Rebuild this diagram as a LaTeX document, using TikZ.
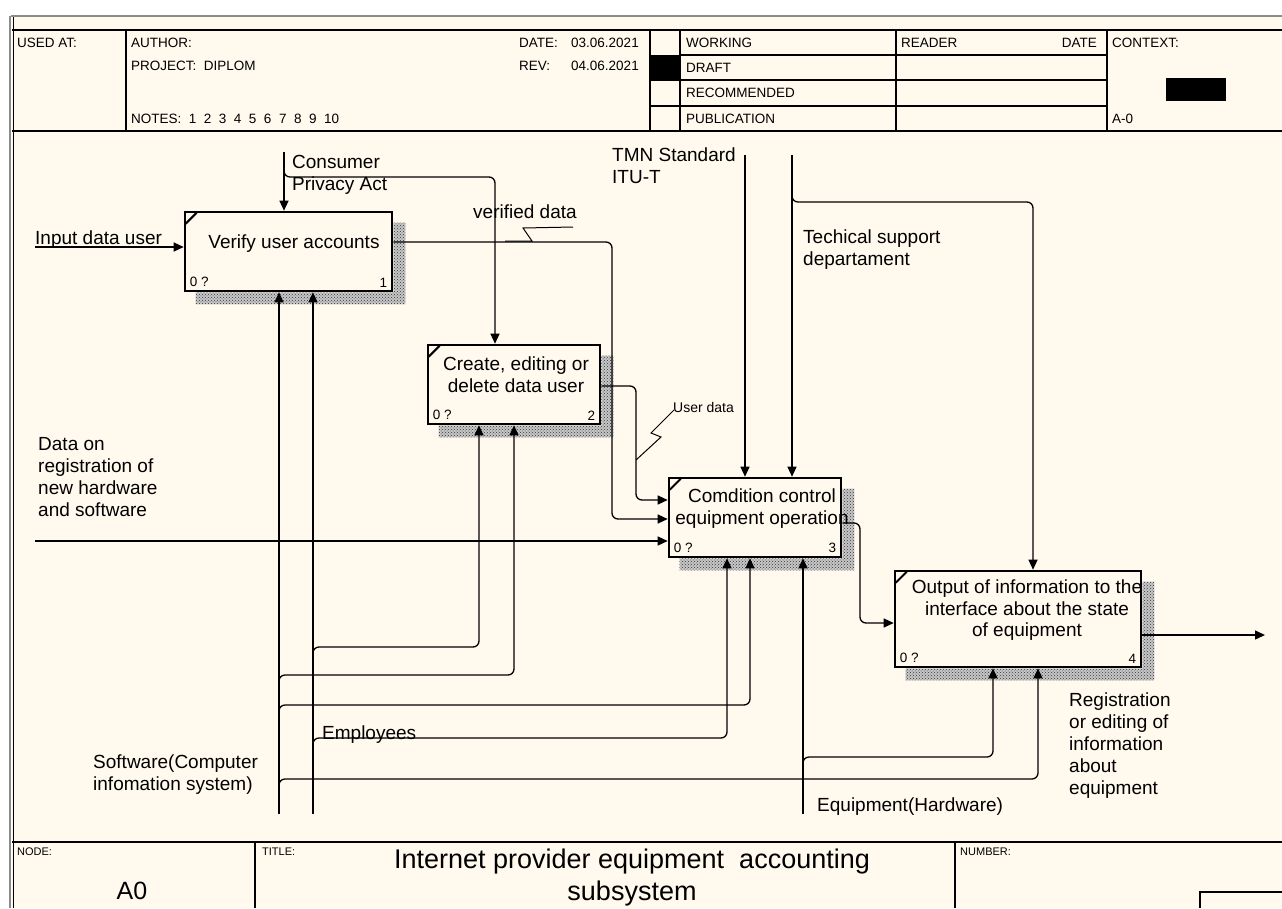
\documentclass[tikz,border=0pt]{standalone}
\usepackage{fontspec}
\setmainfont{Liberation Sans}
\usetikzlibrary{arrows.meta,patterns,calc}
\definecolor{paper}{HTML}{FFF9EE}
\definecolor{framegray}{HTML}{8C8C8C}
\newcommand\idefsz[2]{\fontsize{#1}{#2}\selectfont}
\pgfdeclarelayer{bg}
\pgfdeclarelayer{shade}
\pgfsetlayers{bg,shade,main}
\begin{document}
\begin{tikzpicture}[x=1pt,y=-1pt,
  conn/.style={line width=1.3pt, rounded corners=6pt},
  arr/.style={conn, -{Triangle[length=10pt,width=9pt]}},
  rule/.style={line width=1.3pt},
  act/.style={draw, line width=2.6pt, fill=paper, rectangle, inner sep=0pt},
  hatchbase/.style={fill=black!22},
  hatch/.style={pattern=crosshatch dots, pattern color=black!80},
  lbl/.style={anchor=north west, inner sep=0pt, align=left, font=\idefsz{19}{22}},
  acttxt/.style={anchor=north, inner sep=0pt, align=center, font=\idefsz{19}{21.5}},
  hdr/.style={anchor=west, inner sep=0pt, font=\idefsz{13.5}{15}},
  small/.style={anchor=north west, inner sep=0pt, font=\idefsz{11}{12}},
  tag/.style={inner sep=0pt, font=\idefsz{13.5}{14}},
]
\useasboundingbox (0,0) rectangle (1282,908);

% sheet and frame
\begin{pgfonlayer}{bg}
  \fill[white] (0,0) rectangle (1282,908);
  \fill[paper] (12,16) rectangle (1282,908);
\end{pgfonlayer}
\draw[framegray, line width=2pt] (11,16) -- (1282,16);
\draw[framegray, line width=2pt] (10,16) -- (10,908);
\draw[line width=1pt] (13,17) -- (13,908);

% header table
\draw[rule] (12,30) -- (1282,30);
\draw[rule] (12,131) -- (1282,131);
\foreach \x in {126,650,680,896,1107} \draw[rule] (\x,30) -- (\x,131);
\draw[rule] (680,55) -- (1107,55);
\draw[rule] (650,80) -- (1107,80);
\draw[rule] (650,106) -- (1107,106);
\fill (650,55) rectangle (680,80);
\fill (1166,78) rectangle (1226,101);

\node[hdr] (husedat) at (17,43) {USED AT:};
\node[hdr] (hauthor) at (131,43) {AUTHOR:};
\node[hdr] (hproject) at (131,66) {PROJECT:\ \ DIPLOM};
\node[hdr] (hnotes) at (131,119) {NOTES:\ \ 1\ \ 2\ \ 3\ \ 4\ \ 5\ \ 6\ \ 7\ \ 8\ \ 9\ \ 10};
\node[hdr] (hdate) at (519,43) {DATE:};
\node[hdr] (hdatev) at (571,43) {03.06.2021};
\node[hdr] (hrev) at (519,66) {REV:};
\node[hdr] (hrevv) at (571,66) {04.06.2021};
\node[hdr] (hworking) at (686,43) {WORKING};
\node[hdr] (hdraft) at (686,68) {DRAFT};
\node[hdr] (hrecom) at (686,93) {RECOMMENDED};
\node[hdr] (hpubl) at (686,119) {PUBLICATION};
\node[hdr] (hreader) at (901,43) {READER};
\node[hdr, anchor=east] (hrdate) at (1097,43) {DATE};
\node[hdr] (hcontext) at (1112,43) {CONTEXT:};
\node[hdr] (hcnode) at (1112,119) {A-0};

% footer
\draw[line width=2pt] (12,842) -- (1282,842);
\draw[rule] (255,842) -- (255,908);
\draw[rule] (955,842) -- (955,908);
\draw[rule] (1200,908) -- (1200,892) -- (1282,892);
\node[small] (fnode) at (17,848) {NODE:};
\node[small] (ftitle) at (262,848) {TITLE:};
\node[small] (fnumber) at (960,848) {NUMBER:};
\node[inner sep=0pt, font=\idefsz{25}{28}] (fnodeval) at (132,891) {A0};
\node[anchor=north, inner sep=0pt, align=center, font=\idefsz{27}{32}] (ftitleval) at (632,849)
  {Internet provider equipment\ \ accounting\\subsystem};

% activity boxes
\node[act, minimum width=207pt, minimum height=79pt] (b1) at (288.5,251.5) {};
\node[act, minimum width=172pt, minimum height=79pt] (b2) at (514,384.5) {};
\node[act, minimum width=172pt, minimum height=79pt] (b3) at (755,517.5) {};
\node[act, minimum width=246pt, minimum height=96pt] (b4) at (1018,619) {};

\begin{pgfonlayer}{shade}
\foreach \b in {b1,b2,b3,b4}{
  \path[hatchbase] ($(\b.north east)+(0,12)$) -- ($(\b.north east)+(12,12)$)
     -- ($(\b.south east)+(12,12)$) -- ($(\b.south west)+(12,12)$)
     -- ($(\b.south west)+(12,0)$) -- (\b.south east) -- cycle;
  \fill[hatch] ($(\b.north east)+(0,12)$) -- ($(\b.north east)+(12,12)$)
     -- ($(\b.south east)+(12,12)$) -- ($(\b.south west)+(12,12)$)
     -- ($(\b.south west)+(12,0)$) -- (\b.south east) -- cycle;
}
\end{pgfonlayer}

\foreach \b/\n in {b1/1,b2/2,b3/3,b4/4}{
  \draw[line width=2pt] ($(\b.north west)+(2,13)$) -- ($(\b.north west)+(13,2)$);
  \node[tag, anchor=south west] (\b-q) at ($(\b.south west)+(6,-5)$) {0 ?};
  \node[tag, anchor=south east] (\b-n) at ($(\b.south east)+(-6,-5)$) {\n};
}

\node[acttxt] (b1t) at (294,235) {Verify user accounts};
\node[acttxt] (b2t) at (516,357) {Create, editing or\\delete data user};
\node[acttxt] (b3t) at (762,489) {Comdition control\\equipment operation};
\node[acttxt] (b4t) at (1027,580) {Output of information to the\\interface about the state\\of equipment};

% inputs
\coordinate (i1) at (35,247);
\draw[arr] (i1) -- (i1 -| b1.west);
\coordinate (i3) at (35,541);
\draw[arr] (i3) -- (i3 -| b3.west);

% outputs feeding later activities
\coordinate (r1) at (612,242);
\coordinate (r1d) at (612,519);
\draw[arr] (r1 -| b1.east) -- (r1) -- (r1d) -- (r1d -| b3.west);
\coordinate (r2) at (636,386);
\coordinate (r2d) at (636,500);
\draw[arr] (r2 -| b2.east) -- (r2) -- (r2d) -- (r2d -| b3.west);
\coordinate (r3) at (860,523);
\coordinate (r3d) at (860,623);
\draw[arr] (r3 -| b3.east) -- (r3) -- (r3d) -- (r3d -| b4.west);
\coordinate (o4) at (1265,635);
\draw[arr] (o4 -| b4.east) -- (o4);

% controls
\coordinate (c1) at (284,152);
\draw[arr] (c1) -- (c1 |- b1.north);
\coordinate (k2) at (495,177);
\draw[arr] ($(k2 -| c1)+(0,-6)$) -- (k2 -| c1) -- (k2) -- (k2 |- b2.north);
\coordinate (c3a) at (745,155);
\draw[arr] (c3a) -- (c3a |- b3.north);
\coordinate (c3b) at (792,155);
\draw[arr] (c3b) -- (c3b |- b3.north);
\coordinate (k4) at (1033,202);
\draw[arr] ($(k4 -| c3b)+(0,-6)$) -- (k4 -| c3b) -- (k4) -- (k4 |- b4.north);

% mechanisms
\coordinate (m1) at (279,814);
\coordinate (m2) at (313,814);
\coordinate (m3) at (803,814);
\draw[arr] (m1) -- (m1 |- b1.south);
\draw[arr] (m2) -- (m2 |- b1.south);
\draw[arr] (m3) -- (m3 |- b3.south);
\coordinate (j1) at (479,647);
\draw[arr] ($(j1 -| m2)+(0,6)$) -- (j1 -| m2) -- (j1) -- (j1 |- b2.south);
\coordinate (j2) at (514,675);
\draw[arr] ($(j2 -| m1)+(0,6)$) -- (j2 -| m1) -- (j2) -- (j2 |- b2.south);
\coordinate (j3) at (750,705);
\draw[arr] ($(j3 -| m1)+(0,6)$) -- (j3 -| m1) -- (j3) -- (j3 |- b3.south);
\coordinate (j4) at (727,738);
\draw[arr] ($(j4 -| m2)+(0,6)$) -- (j4 -| m2) -- (j4) -- (j4 |- b3.south);
\coordinate (j5) at (1038,779);
\draw[arr] ($(j5 -| m1)+(0,6)$) -- (j5 -| m1) -- (j5) -- (j5 |- b4.south);
\coordinate (j6) at (993,757);
\draw[arr] ($(j6 -| m3)+(0,6)$) -- (j6 -| m3) -- (j6) -- (j6 |- b4.south);

% arrow labels
\node[lbl] (lconsumer) at (292,155) {Consumer\\Privacy Act};
\node[lbl] (lverified) at (473,205) {verified data};
\draw[line width=1pt] (505,241) -- (532,241) -- (523,228) -- (573,227);
\node[lbl] (ltmn) at (612,148) {TMN Standard\\ITU-T};
\node[lbl] (ltech) at (803,230) {Techical support\\departament};
\node[lbl] (linput) at (35,231) {Input data user};
\node[lbl] (ldataon) at (38,437) {Data on\\registration of\\new hardware\\and software};
\node[anchor=north west, inner sep=0pt, font=\idefsz{14}{16}] (luser) at (673,402) {User data};
\draw[line width=1pt] (636,460) -- (661,437) -- (651,433) -- (674,410);
\node[lbl] (lemployees) at (322,726) {Employees};
\node[lbl] (lsoftware) at (93,755) {Software(Computer\\infomation system)};
\node[lbl] (lequipment) at (817,798) {Equipment(Hardware)};
\node[lbl] (lregistration) at (1069,693) {Registration\\or editing of\\information\\about\\equipment};
\end{tikzpicture}
\end{document}
